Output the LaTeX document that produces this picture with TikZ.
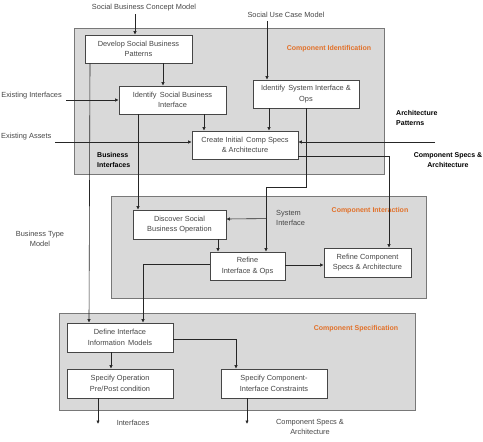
\documentclass[tikz,border=0pt]{standalone}
\usepackage{fontspec}
\setmainfont{Liberation Sans}
\usetikzlibrary{arrows.meta,calc}
\definecolor{panelfill}{RGB}{217,217,217}
\definecolor{panelline}{RGB}{120,120,120}
\definecolor{boxline}{RGB}{70,70,70}
\definecolor{txt}{RGB}{70,70,70}
\definecolor{orangetxt}{RGB}{226,112,40}
\tikzset{
  panel/.style={draw=panelline, fill=panelfill, line width=0.8pt},
  procbox/.style={draw=boxline, fill=white, line width=0.8pt, inner sep=0pt, align=center,
    text=txt, font=\fontsize{7.4}{10.5}\selectfont},
  lbl/.style={inner sep=0pt, align=center, text=txt, font=\fontsize{7.4}{10.5}\selectfont},
  blbl/.style={inner sep=0pt, align=left, text=black, font=\fontsize{7}{10.5}\selectfont\bfseries},
  olbl/.style={inner sep=0pt, text=orangetxt, font=\fontsize{7}{10.5}\selectfont\bfseries},
  conn/.style={draw=black!85, line width=0.6pt},
  arr/.style={conn, -{Latex[length=3.5pt,width=3.5pt]}}
}
\begin{document}
\begin{tikzpicture}[x=1pt,y=-1pt]
\useasboundingbox (0,0) rectangle (483,442);
% panels
\draw[panel] (74,28) rectangle (384,174);
\draw[panel] (111,196) rectangle (426,298);
\draw[panel] (59,313) rectangle (415,410);
% boxes
\node[procbox, minimum width=107pt, minimum height=28pt] (dev) at (138.5,49) {Develop Social Business\\Patterns};
\node[procbox, minimum width=107pt, minimum height=28pt] (isb) at (172.5,100) {Identify\, Social Business\\Interface};
\node[procbox, minimum width=106pt, minimum height=28pt] (isys) at (306,94) {Identify\, System Interface \&\\Ops};
\node[procbox, minimum width=106pt, minimum height=28pt] (cics) at (245,145) {Create Initial\, Comp Specs\\\& Architecture};
\node[procbox, minimum width=93pt, minimum height=29pt] (dsbo) at (179.5,224.5) {Discover Social\\Business Operation};
\node[procbox, minimum width=75pt, minimum height=28pt] (rio) at (247.5,266) {Refine\\Interface \& Ops};
\node[procbox, minimum width=87pt, minimum height=29pt] (rcsa) at (367.5,262.5) {Refine Component\\Specs \& Architecture};
\node[procbox, minimum width=106pt, minimum height=29pt] (diim) at (120,337.5) {Define Interface\\Information\, Models};
\node[procbox, minimum width=106pt, minimum height=29pt] (sopp) at (120,383.5) {Specify Operation\\Pre/Post condition};
\node[procbox, minimum width=106pt, minimum height=29pt] (scic) at (274,383.5) {Specify Component-\\Interface Constraints};
% labels
\node[lbl] (sbcm) at (144,8) {Social Business Concept Model};
\node[lbl] (sucm) at (286,15) {Social Use Case Model};
\node[olbl] (ci) at (329,49) {Component Identification};
\node[olbl] (cint) at (370,211) {Component Interaction};
\node[olbl] (cspec) at (356,329) {Component Specification};
\node[lbl, anchor=east] (ei) at (62,96) {Existing Interfaces};
\node[lbl, anchor=west] (ea) at (1,137) {Existing Assets};
\node[blbl, anchor=west] (ap) at (396,118) {Architecture\\Patterns};
\node[blbl, align=center] (csa1) at (448,160) {Component Specs \&\\Architecture};
\node[blbl, anchor=west] (bi) at (97,160) {Business\\Interfaces};
\node[lbl, anchor=west, align=left] (si) at (276,218) {System\\Interface};
\node[lbl] (btm) at (40,239) {Business Type\\Model};
\node[lbl] (ifc) at (133,423) {Interfaces};
\node[lbl] (csa2) at (310,427) {Component Specs \&\\Architecture};
% free-end coordinates
\coordinate (c1) at (135,14);
\coordinate (c2) at (267,21);
\coordinate (c3) at (66,100);
\coordinate (c4) at (55,142);
\coordinate (c5) at (435,142);
\coordinate (c6) at (98,424);
\coordinate (c7) at (247,424);
% connectors
\draw[arr] (c1) -- (c1 |- dev.north);
\draw[arr] (c2) -- (c2 |- isys.north);
\draw[arr] ($(dev.south)+(24.5,0)$) -- ($(isb.north)+(-9.5,0)$);
\draw[arr] (c3) -- (isb.west);
\draw[arr] ($(isb.south)+(31.5,0)$) -- ($(cics.north)+(-41,0)$);
\draw[arr] ($(isys.south)+(-37,0)$) -- ($(cics.north)+(24,0)$);
\draw[arr] (c4) -- (c4 -| cics.west);
\draw[arr] (c5) -- (c5 -| cics.east);
\draw[arr] ($(dev.south)+(-48.5,0)$) -- ($(diim.north)+(-31,0)$);
\draw[arr] ($(isb.south)+(-34.5,0)$) -- ($(dsbo.north)+(-41.5,0)$);
\draw[arr] ($(isys.south)+(0,0)$) -- ++(0,79) -| ($(rio.north)+(18.5,0)$);
\draw[arr] ($(rio.north)+(18.5,-33)$) -- ($(dsbo.east)+(0,-5.5)$);
\draw[arr] ($(cics.east)+(0,11)$) -| ($(rcsa.north)+(21.5,0)$);
\draw[arr] ($(dsbo.south)+(38.5,0)$) -- ($(rio.north)+(-29.5,0)$);
\draw[arr] ($(rio.east)+(0,-1)$) -- ($(rcsa.west)+(0,2.5)$);
\draw[arr] ($(rio.west)+(0,-2)$) -| ($(diim.north)+(23,0)$);
\draw[arr] ($(diim.south)+(-9,0)$) -- ($(sopp.north)+(-9,0)$);
\draw[arr] ($(diim.east)+(0,1.5)$) -| ($(scic.north)+(-38,0)$);
\draw[arr] ($(sopp.south)+(-22,0)$) -- (c6);
\draw[arr] ($(scic.south)+(-27,0)$) -- (c7);
\end{tikzpicture}
\end{document}
